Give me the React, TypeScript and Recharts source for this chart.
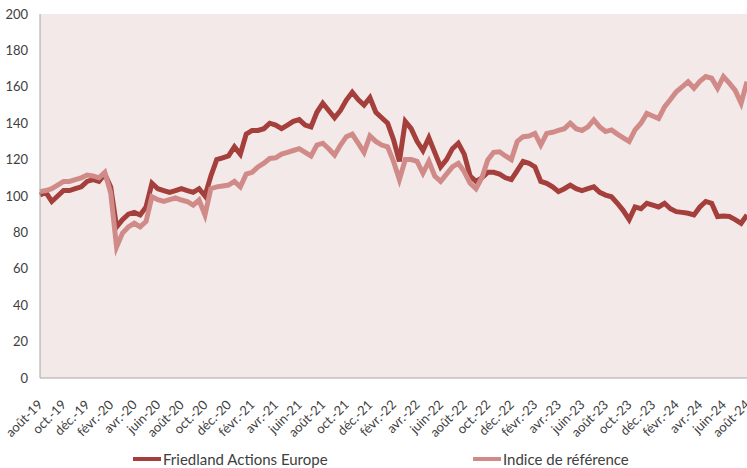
import { LineChart, Line, XAxis, YAxis, CartesianGrid, Legend } from 'recharts';

// étiquettes de l'axe des dates (un tick tous les 2 mois)
const tickLabels = [
  'août-19', 'oct.-19', 'déc.-19', 'févr.-20', 'avr.-20', 'juin-20', 'août-20', 'oct.-20',
  'déc.-20', 'févr.-21', 'avr.-21', 'juin-21', 'août-21', 'oct.-21', 'déc.-21', 'févr.-22',
  'avr.-22', 'juin-22', 'août-22', 'oct.-22', 'déc.-22', 'févr.-23', 'avr.-23', 'juin-23',
  'août-23', 'oct.-23', 'déc.-23', 'févr.-24', 'avr.-24', 'juin-24', 'août-24',
];

const yTicks = [0, 20, 40, 60, 80, 100, 120, 140, 160, 180, 200];

// valeurs base 100, un point par demi-mois depuis août 2019
const fonds = [
  100.5, 102, 97, 100, 103, 103, 104, 105, 108, 109, 108, 112, 105, 83, 87, 90, 91, 89.6, 94, 107,
  104, 103, 102, 103, 104, 103, 102, 104, 100, 111, 120, 121, 122, 127, 123, 134, 136, 136, 137, 140,
  139, 137, 139, 141, 142, 139, 138, 146, 151, 147, 143, 147, 152.7, 157, 153, 150, 154, 146, 143, 140,
  131, 119, 141, 137, 130, 125, 132, 124, 116, 120, 126, 129, 123, 111, 108, 110, 113, 113, 112, 110,
  109, 114, 119, 118, 116, 108, 107, 105, 102.4, 104, 106, 104, 103, 104, 105, 102, 100.5, 99.6, 96, 92,
  87, 94, 93, 96, 95, 94, 96, 93, 91.4, 91, 90.5, 89.6, 94, 97, 96, 88.7, 89, 88.7, 87, 85,
  89.6,
];

const indice = [
  102.4, 103, 104, 106, 108, 108, 109, 110, 111.5, 111, 110, 113, 101.6, 72, 79.6, 83, 85, 83, 86, 99.6,
  98, 97, 98, 99, 97.8, 97, 95, 97.8, 89.6, 104, 105, 105.5, 106, 108, 105, 112, 113, 116, 118, 120.6,
  121, 123, 124, 125, 126, 124, 122, 128, 129, 126, 122.5, 128, 132.6, 134, 129, 124, 133, 130, 128, 127,
  119, 109, 120, 120, 119, 112.5, 119, 111, 108, 112, 116, 118, 113.4, 107, 104, 110, 119.8, 124, 124.3, 122,
  120, 130, 132.6, 133, 134.4, 128, 134.4, 135, 136, 137, 140, 137, 136, 138, 141.8, 138, 135.4, 136.3, 134, 132,
  130, 136.3, 140, 145.4, 144, 142.6, 149, 153, 157.3, 160, 162.8, 159.2, 163, 165.6, 164.7, 159.2, 165.6, 162, 158, 151,
  162.8,
];

const data = fonds.map((v, i) => ({ m: i / 2, fonds: v, indice: indice[i] }));
const xTicks = tickLabels.map((_, i) => i * 2);

const FONT = 'Lato, "Open Sans", sans-serif';
const FUND_COLOR = '#A43F3C';
const INDEX_COLOR = '#D08B89';

const DateTick = ({ x, y, payload }: { x?: number; y?: number; payload?: { value: number } }) => {
  const ty = (y ?? 0) + 16;
  return (
    <text
      x={x}
      y={ty}
      transform={`rotate(-45, ${x}, ${ty})`}
      textAnchor="end"
      dominantBaseline="central"
      fontSize={13}
      fill="#404040"
      fontFamily={FONT}
    >
      {tickLabels[(payload?.value ?? 0) / 2]}
    </text>
  );
};

const CustomLegend = () => (
  <div style={{ position: 'relative', height: 24, fontFamily: FONT, fontSize: 15, color: '#404040' }}>
    {[
      { label: 'Friedland Actions Europe', color: FUND_COLOR, left: 133 },
      { label: 'Indice de référence', color: INDEX_COLOR, left: 473 },
    ].map((item) => (
      <div key={item.label} style={{ position: 'absolute', left: item.left, top: 6, display: 'flex', alignItems: 'center' }}>
        <span style={{ display: 'inline-block', width: 28, height: 4, background: item.color, marginRight: 2 }} />
        <span>{item.label}</span>
      </div>
    ))}
  </div>
);

export default function App() {
  return (
    <div>
      <style>{'body{margin:0}'}</style>
      <LineChart width={747} height={468} data={data} margin={{ top: 14, right: 0, bottom: 0, left: 0 }}>
        <CartesianGrid fill="#F3E9E9" stroke="none" horizontal={false} vertical={false} />
        <XAxis
          dataKey="m"
          type="number"
          domain={[0, 60]}
          ticks={xTicks}
          interval={0}
          tick={<DateTick />}
          tickLine={false}
          axisLine={{ stroke: '#A6A6A6' }}
          height={66}
        />
        <YAxis
          domain={[0, 200]}
          ticks={yTicks}
          interval={0}
          width={40}
          tickLine={false}
          tickSize={6}
          tickMargin={6}
          axisLine={{ stroke: '#A6A6A6' }}
          tick={{ fontSize: 13, fill: '#404040', fontFamily: FONT }}
        />
        <Legend verticalAlign="bottom" height={24} content={<CustomLegend />} />
        <Line
          type="linear"
          dataKey="fonds"
          stroke={FUND_COLOR}
          strokeWidth={5}
          dot={false}
          isAnimationActive={false}
        />
        <Line
          type="linear"
          dataKey="indice"
          stroke={INDEX_COLOR}
          strokeWidth={5}
          dot={false}
          isAnimationActive={false}
        />
      </LineChart>
    </div>
  );
}
